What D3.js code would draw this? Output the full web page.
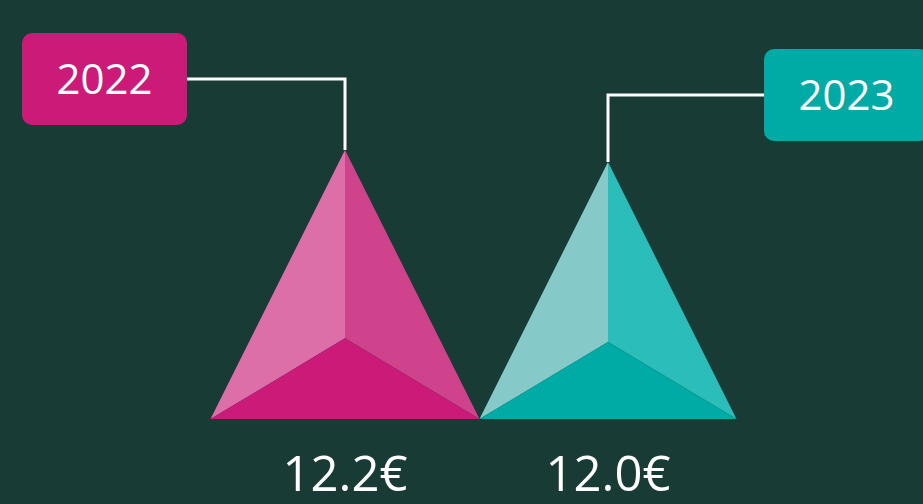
<!DOCTYPE html>
<meta charset="utf-8">
<style>
body { margin: 0; background: #183b35; overflow: hidden; }
text { font-family: "Open Sans", sans-serif; font-weight: 500; fill: #fff; }
</style>
<body>
<script src="https://d3js.org/d3.v7.min.js"></script>
<script>

// data
var years = ["2022", "2023"];
var values = [12.2, 12.0];
var valueLabels = ["12.2€", "12.0€"];

var width = 923, height = 504;
var baseY = 419;

var colors = {
  "2022": {base: "#cc1a78", left: "#dd6fa8", right: "#cf438c"},
  "2023": {base: "#00aba5", left: "#85cac8", right: "#2bbdb9"}
};

var svg = d3.select("body").append("svg")
    .attr("width", width)
    .attr("height", height);

// scales
var x = d3.scalePoint().domain(years).range([345, 608]);
var y = d3.scaleLinear().domain([7.72, 12.2]).range([baseY, 150]);

var data = years.map(function(d, i) {
  return {year: d, value: values[i], label: valueLabels[i]};
});

// pyramids
var g = svg.selectAll(".pyr")
    .data(data)
  .enter().append("g")
    .attr("class", "pyr");

function pts(d) {
  var cx = x(d.year), top = y(d.value), h = baseY - top;
  return {
    A: [cx, top],
    L: [cx - h / 2, baseY],
    R: [cx + h / 2, baseY],
    I: [cx, baseY - h * 0.3]
  };
}

g.append("path")
    .attr("fill", function(d) { return colors[d.year].left; })
    .attr("d", function(d) { var p = pts(d); return "M" + [p.A, p.L, p.I].join("L") + "Z"; });
g.append("path")
    .attr("fill", function(d) { return colors[d.year].right; })
    .attr("d", function(d) { var p = pts(d); return "M" + [p.A, p.R, p.I].join("L") + "Z"; });
g.append("path")
    .attr("fill", function(d) { return colors[d.year].base; })
    .attr("d", function(d) { var p = pts(d); return "M" + [p.L, p.R, p.I].join("L") + "Z"; });

// value labels
g.append("text")
    .attr("x", function(d) { return x(d.year); })
    .attr("y", 491)
    .attr("text-anchor", "middle")
    .style("font-size", "49px")
    .text(function(d) { return d.label; });

// callout boxes
var boxW = 165, boxH = 92;
var callouts = [
  {year: "2022", bx: 22, by: 33},
  {year: "2023", bx: 764, by: 49}
];

callouts.forEach(function(c, i) {
  var d = data[i];
  var ly = c.by + boxH / 2;
  var ex = c.bx < x(d.year) ? c.bx + boxW : c.bx;
  svg.append("path")
      .attr("fill", "none")
      .attr("stroke", "#fff")
      .attr("stroke-width", 3)
      .attr("d", "M" + ex + "," + ly + "H" + x(d.year) + "V" + y(d.value));
  svg.append("rect")
      .attr("x", c.bx).attr("y", c.by)
      .attr("width", boxW).attr("height", boxH)
      .attr("rx", 10)
      .attr("fill", colors[d.year].base);
  svg.append("text")
      .attr("x", c.bx + boxW / 2)
      .attr("y", ly + 15)
      .attr("text-anchor", "middle")
      .style("font-size", "42px")
      .text(d.year);
});

</script>
</body>
